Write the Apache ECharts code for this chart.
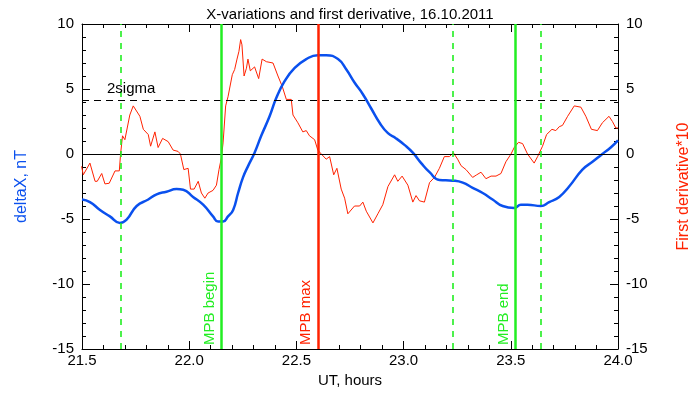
<!DOCTYPE html>
<html>
<head>
<meta charset="utf-8">
<script src="https://cdn.jsdelivr.net/npm/echarts@6/dist/echarts.min.js"></script>
<style>
  html, body { margin: 0; padding: 0; background: #fff; }
  #chart { width: 700px; height: 400px; }
</style>
</head>
<body>
<div id="chart"></div>
<script>
// deltaX, nT (blue)
var blueHours = [21.5, 21.537, 21.584, 21.630, 21.677, 21.708, 21.755, 21.809, 21.848, 21.894, 21.941, 21.972,
  22.018, 22.065, 22.111, 22.135, 22.158, 22.181, 22.205, 22.228, 22.251, 22.274, 22.305, 22.336, 22.375,
  22.406, 22.445, 22.491, 22.546, 22.600, 22.639, 22.694, 22.733, 22.771, 22.810, 22.849, 22.888, 22.927,
  22.965, 23.004, 23.043, 23.082, 23.121, 23.167, 23.229, 23.276, 23.322, 23.369, 23.415, 23.462, 23.516,
  23.547, 23.578, 23.640, 23.679, 23.726, 23.772, 23.834, 23.881, 23.927, 23.966, 24.0];
var blueValues = [-3.5, -3.7, -4.3, -4.8, -5.3, -5.05, -4.0, -3.5, -3.1, -2.9, -2.7, -2.75,
  -3.3, -3.9, -4.8, -5.2, -5.2, -4.8, -4.3, -3.0, -1.8, -0.95, 0.1, 1.4, 2.9,
  4.3, 5.6, 6.6, 7.3, 7.6, 7.6, 7.3, 6.5, 5.5, 4.6, 3.5, 2.4, 1.6,
  1.2, 0.7, 0.1, -0.7, -1.4, -2.0, -2.05, -2.2, -2.6, -3.0, -3.5, -4.0, -4.15,
  -3.9, -3.9, -4.0, -3.7, -3.3, -2.5, -1.2, -0.6, 0.0, 0.5, 1.05];

// first derivative * 10 (red)
var redHours = [21.498, 21.506, 21.537, 21.561, 21.571, 21.592, 21.607, 21.627, 21.654, 21.674, 21.680, 21.689,
  21.700, 21.708, 21.723, 21.739, 21.770, 21.786, 21.809, 21.820, 21.840, 21.855, 21.876, 21.902, 21.925,
  21.948, 21.959, 21.975, 21.995, 22.006, 22.023, 22.042, 22.057, 22.073, 22.088, 22.111, 22.127, 22.139,
  22.150, 22.158, 22.170, 22.181, 22.189, 22.201, 22.212, 22.223, 22.232, 22.240, 22.246, 22.256, 22.267,
  22.274, 22.285, 22.305, 22.324, 22.340, 22.360, 22.391, 22.414, 22.434, 22.453, 22.476, 22.484, 22.507,
  22.530, 22.546, 22.561, 22.585, 22.600, 22.616, 22.639, 22.655, 22.674, 22.689, 22.709, 22.725, 22.740,
  22.771, 22.795, 22.810, 22.826, 22.857, 22.880, 22.903, 22.927, 22.958, 22.973, 22.993, 23.020, 23.043,
  23.058, 23.074, 23.097, 23.121, 23.144, 23.167, 23.190, 23.214, 23.232, 23.252, 23.268, 23.291, 23.322,
  23.341, 23.361, 23.384, 23.408, 23.431, 23.454, 23.477, 23.501, 23.516, 23.536, 23.555, 23.578, 23.609,
  23.625, 23.648, 23.667, 23.692, 23.710, 23.726, 23.741, 23.765, 23.796, 23.827, 23.850, 23.876, 23.904,
  23.927, 23.958, 23.974, 23.990, 24.0];
var redValues = [-0.95, -1.6, -0.7, -2.1, -2.1, -1.5, -2.3, -2.25, -1.3, -1.3, 0.0, 1.4,
  1.1, 1.2, 3.0, 3.7, 2.9, 1.9, 1.5, 0.6, 1.7, 0.5, 1.2, 0.95, 0.3,
  0.2, 0.0, -1.2, -1.1, -2.7, -2.7, -2.1, -3.0, -3.4, -3.0, -2.8, -2.4, -1.2,
  -0.3, 0.85, 3.7, 4.4, 4.4, 6.1, 6.5, 7.3, 7.9, 8.8, 8.4, 6.0, 6.6,
  7.3, 6.4, 6.7, 5.8, 7.3, 7.1, 7.0, 6.0, 5.2, 4.2, 4.2, 3.0, 2.4,
  1.7, 1.8, 1.4, 1.1, 0.3, 0.0, -0.4, -0.2, -1.6, -1.1, -2.7, -3.4, -4.6,
  -4.0, -4.0, -3.7, -4.4, -5.3, -4.6, -3.9, -2.5, -1.6, -2.1, -1.7, -2.4, -3.7,
  -3.2, -3.6, -3.7, -2.2, -1.8, -1.1, -0.2, -0.2, 0.1, -0.4, -0.9, -1.2, -1.8,
  -1.6, -1.4, -1.9, -1.7, -1.7, -1.5, -0.6, 0.0, 0.5, 0.9, 0.8, 0.0, -0.7,
  -0.2, 0.6, 1.5, 1.9, 1.8, 2.1, 2.2, 2.9, 3.7, 3.6, 2.9, 1.9, 1.8,
  2.4, 2.9, 2.5, 2.0, 2.0];

var twoSigma = 4.15;
var xTicks = [21.5, 24.0, 0.5];
var yTicks = [-15, 10, 5];

function zip(xs, ys) {
  return xs.map(function (x, i) { return [x, ys[i]]; });
}

var font = 'Liberation Sans';
var green = '#22ee22';
var red = '#ff2200';
var blue = '#0a50ee';

function vline(x, color, dashed, text) {
  return {
    xAxis: x,
    lineStyle: { color: color, type: dashed ? [6, 6] : 'solid', width: dashed ? 1.6 : 2.5 },
    label: text ? {
      show: true, formatter: text, position: 'insideStartTop', distance: 4,
      color: color, fontSize: 15, fontFamily: font
    } : { show: false }
  };
}

var chart = echarts.init(document.getElementById('chart'));

var yAxisBase = {
  type: 'value', min: yTicks[0], max: yTicks[1], interval: yTicks[2],
  nameLocation: 'middle', nameRotate: 90,
  axisLine: { show: true, lineStyle: { color: '#000' } },
  axisTick: { show: true, inside: true, length: 8, lineStyle: { color: '#000' } },
  minorTick: { show: true, splitNumber: 5, length: 4, lineStyle: { color: '#000' } },
  splitLine: { show: false },
  axisLabel: { color: '#000', fontSize: 15, fontFamily: font }
};

chart.setOption({
  animation: false,
  backgroundColor: '#fff',
  title: {
    text: 'X-variations and first derivative, 16.10.2011',
    left: 'center', top: 2,
    textStyle: { fontSize: 15, fontWeight: 'normal', color: '#000', fontFamily: font }
  },
  grid: { left: 82, right: 81, top: 24, bottom: 51 },
  xAxis: [{
    type: 'value', min: xTicks[0], max: xTicks[1], interval: xTicks[2],
    name: 'UT, hours', nameLocation: 'middle', nameGap: 20,
    nameTextStyle: { color: '#000', fontSize: 15, fontFamily: font },
    axisLine: { onZero: false, lineStyle: { color: '#000' } },
    axisTick: { inside: true, length: 8, lineStyle: { color: '#000' } },
    minorTick: { show: true, splitNumber: 5, length: 4, lineStyle: { color: '#000' } },
    splitLine: { show: false },
    axisLabel: { color: '#000', fontSize: 15, fontFamily: font, margin: 4,
      formatter: function (v) { return v.toFixed(1); } }
  }, {
    type: 'value', min: xTicks[0], max: xTicks[1], interval: xTicks[2], position: 'top',
    axisLine: { onZero: false, lineStyle: { color: '#000' } },
    axisTick: { inside: true, length: 8, lineStyle: { color: '#000' } },
    minorTick: { show: true, splitNumber: 5, length: 4, lineStyle: { color: '#000' } },
    splitLine: { show: false }, axisLabel: { show: false }
  }],
  yAxis: [
    Object.assign({}, yAxisBase, {
      position: 'left', name: 'deltaX, nT', nameGap: 52,
      nameTextStyle: { color: blue, fontSize: 16, fontFamily: font }
    }),
    Object.assign({}, yAxisBase, {
      position: 'right', name: 'First derivative*10', nameGap: 58, nameRotate: 90,
      nameTextStyle: { color: red, fontSize: 16, fontFamily: font }
    })
  ],
  series: [{
    type: 'line', name: 'derivative', data: zip(redHours, redValues), yAxisIndex: 1,
    showSymbol: false, lineStyle: { color: red, width: 1 }, z: 3,
    markLine: {
      symbol: 'none', silent: true, animation: false,
      data: [
        { yAxis: 0, lineStyle: { color: '#000', type: 'solid', width: 1 }, label: { show: false } },
        { yAxis: twoSigma, lineStyle: { color: '#000', type: [7, 5], width: 1 },
          label: { show: true, formatter: '2sigma', position: 'insideStartTop', distance: [25, 4],
            color: '#000', fontSize: 15, fontFamily: font } },
        vline(21.68, green, true),
        vline(22.15, green, false, 'MPB begin'),
        vline(22.603, red, false, 'MPB max'),
        vline(23.226, green, true),
        vline(23.524, green, false, 'MPB end'),
        vline(23.644, green, true)
      ]
    }
  }, {
    type: 'line', name: 'deltaX', data: zip(blueHours, blueValues), yAxisIndex: 0,
    showSymbol: false, smooth: true, lineStyle: { color: blue, width: 2.5 }, z: 4
  }]
});
</script>
</body>
</html>
